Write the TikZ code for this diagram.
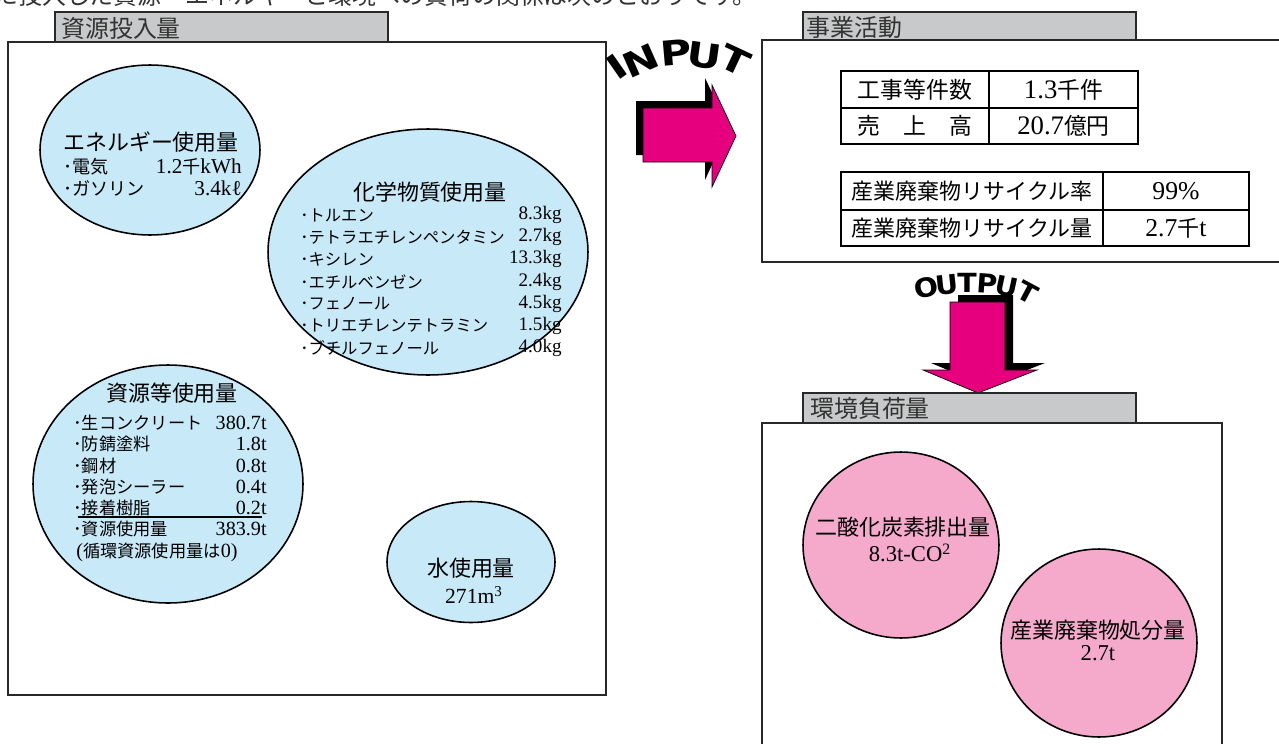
\documentclass[tikz,border=0pt]{standalone}
\usepackage{fontspec}
\setmainfont{Liberation Serif}[Scale=1.17]
\newfontfamily\jpfont{Noto Sans CJK JP}
\newfontfamily\arrowfont{DejaVu Sans}[FakeStretch=1.25]
\newfontfamily\arrowfontB{DejaVu Sans}[FakeStretch=1.08]
\usetikzlibrary{shapes.geometric}
% automatic switch to the Japanese font for CJK characters
\chardef\cjkcls=10
\newcount\cjkcnt
\newcommand\setcjkrange[2]{\cjkcnt=#1\relax
  \loop\XeTeXcharclass\cjkcnt=\cjkcls\relax
  \ifnum\cjkcnt<#2\relax\advance\cjkcnt by 1\relax\repeat}
\setcjkrange{"2E80}{"9FFF}
\setcjkrange{"F900}{"FAFF}
\setcjkrange{"FF00}{"FFEF}
\XeTeXinterchartoks 0 \cjkcls = {\jpfont}
\XeTeXinterchartoks 4095 \cjkcls = {\jpfont}
\XeTeXinterchartoks \cjkcls 0 = {\rmfamily}
\XeTeXinterchartoks \cjkcls 4095 = {\rmfamily}
\XeTeXinterchartokenstate=1
\definecolor{lightblue}{RGB}{200,233,248}
\definecolor{pinkfill}{RGB}{245,170,203}
\definecolor{arrowmag}{RGB}{230,0,126}
\definecolor{tabgray}{RGB}{200,201,202}
\definecolor{linegray}{RGB}{40,40,40}
\definecolor{textgray}{RGB}{50,50,50}
\begin{document}
\begin{tikzpicture}[x=0.02cm,y=-0.02cm,
  panel/.style={draw=linegray, line width=1.1pt},
  tabbox/.style={draw=linegray, line width=1.1pt, fill=tabgray},
  tabtext/.style={anchor=west, inner sep=0, text=textgray, font=\fontsize{13.6}{16}\selectfont},
  blueell/.style={ellipse, draw=black, line width=0.9pt, fill=lightblue, inner sep=0},
  pinkell/.style={ellipse, draw=black, line width=0.9pt, fill=pinkfill, inner sep=0},
  ttl/.style={inner sep=0, font=\fontsize{12.5}{15}\selectfont},
  item/.style={inner sep=0, anchor=west},
  val/.style={inner sep=0, anchor=east},
  cell/.style={draw=black, line width=0.7pt, inner sep=0},
  shadowblk/.style={fill=black},
  pinkarrow/.style={fill=arrowmag, draw=black, line width=0.4pt},
  letterA/.style={inner sep=0, font=\arrowfont\bfseries\fontsize{19.5}{20}\selectfont},
  letterB/.style={inner sep=0, font=\arrowfontB\bfseries\fontsize{15}{15}\selectfont}
]
\useasboundingbox (0,0) rectangle (1279,744);

% cut-off heading line at the very top
\node[anchor=base west, inner sep=0, text=textgray, font=\fontsize{13.6}{16}\selectfont] (head) at (-6,4) {に投入した資源・エネルギーと環境への負荷の関係は次のとおりです。};

% ---------- left panel ----------
\draw[tabbox] (55,12) rectangle (388,42);
\draw[panel] (8,42) rectangle (606,695);
\node[tabtext] (tabin) at (61,28) {資源投入量};

\node[blueell, minimum width=4.4cm, minimum height=3.4cm] (energy) at (150,150) {};
\node[blueell, minimum width=6.4cm, minimum height=4.92cm] (chem) at (428,252) {};
\node[blueell, minimum width=5.4cm, minimum height=4.76cm] (res) at (168,484) {};
\node[blueell, minimum width=3.36cm, minimum height=2.42cm] (water) at (471,562) {};

% energy
\begin{scope}[font=\fontsize{10.3}{12}\selectfont]
\node[ttl] (e-t) at (151,142) {エネルギー使用量};
\node[item] (e-1) at (63,167) {･電気};
\node[val] (e-1v) at (242,167) {1.2千kWh};
\node[item] (e-2) at (63,188) {･ガソリン};
\node[val] (e-2v) at (242,188) {3.4kℓ};
\end{scope}

% chemicals
\begin{scope}[font=\fontsize{9.3}{11}\selectfont]
\node[ttl] (c-t) at (430,192) {化学物質使用量};
\node[item] (c-1) at (300,215) {･トルエン};
\node[val] (c-1v) at (562,215) {8.3kg};
\node[item] (c-2) at (300,237) {･テトラエチレンペンタミン};
\node[val] (c-2v) at (562,237) {2.7kg};
\node[item] (c-3) at (300,259) {･キシレン};
\node[val] (c-3v) at (562,259) {13.3kg};
\node[item] (c-4) at (300,282) {･エチルベンゼン};
\node[val] (c-4v) at (562,282) {2.4kg};
\node[item] (c-5) at (300,304) {･フェノール};
\node[val] (c-5v) at (562,304) {4.5kg};
\node[item] (c-6) at (300,326) {･トリエチレンテトラミン};
\node[val] (c-6v) at (562,326) {1.5kg};
\node[item] (c-7) at (300,348) {･ブチルフェノール};
\node[val] (c-7v) at (562,348) {4.0kg};
\end{scope}

% resources
\begin{scope}[font=\fontsize{9.8}{12}\selectfont]
\node[ttl] (r-t) at (172,393) {資源等使用量};
\node[item] (r-1) at (73,423) {･生コンクリート};
\node[val] (r-1v) at (267,423) {380.7t};
\node[item] (r-2) at (73,444) {･防錆塗料};
\node[val] (r-2v) at (267,444) {1.8t};
\node[item] (r-3) at (73,466) {･鋼材};
\node[val] (r-3v) at (267,466) {0.8t};
\node[item] (r-4) at (73,487) {･発泡シーラー};
\node[val] (r-4v) at (267,487) {0.4t};
\node[item] (r-5) at (73,508) {･接着樹脂};
\node[val] (r-5v) at (267,508) {0.2t};
\node[item] (r-6) at (73,529) {･資源使用量};
\node[val] (r-6v) at (267,529) {383.9t};
\node[item] (r-7) at (76,552) {(循環資源使用量は0)};
\end{scope}
\draw[line width=0.8pt] (78,517) -- (262,517);

% water
\node[ttl] (w-t) at (471,568) {水使用量};
\node[inner sep=0, font=\fontsize{10.5}{13}\selectfont] (w-v) at (474,595) {271m\textsuperscript{3}};

% ---------- INPUT arrow ----------
\fill[shadowblk] (636,101) -- (705,101) -- (705,78) -- (729,128) -- (705,180) -- (705,155) -- (636,155) -- cycle;
\draw[pinkarrow] (643,108) -- (712,108) -- (712,85) -- (736,136) -- (712,187) -- (712,162) -- (643,162) -- cycle;
\node[letterA, rotate=35] (in-1) at (617,67) {I};
\node[letterA, rotate=24] (in-2) at (641,61) {N};
\node[letterA, rotate=5] (in-3) at (676,53) {P};
\node[letterA, rotate=-8] (in-4) at (704,56) {U};
\node[letterA, rotate=-25] (in-5) at (735,60) {T};

% ---------- business activity panel ----------
\draw[tabbox] (803,12) rectangle (1136,40);
\draw[panel] (762,40) rectangle (1290,262);
\node[tabtext] (tabact) at (806,27) {事業活動};

\begin{scope}[font=\fontsize{13}{15}\selectfont]
\node[cell, minimum width=2.96cm, minimum height=0.74cm] (a11) at (915,89.5) {工事等件数};
\node[cell, minimum width=2.98cm, minimum height=0.74cm] (a12) at (1063.5,89.5) {1.3千件};
\node[cell, minimum width=2.96cm, minimum height=0.72cm] (a21) at (915,126) {売　上　高};
\node[cell, minimum width=2.98cm, minimum height=0.72cm] (a22) at (1063.5,126) {20.7億円};
\end{scope}
\begin{scope}[font=\fontsize{12.5}{15}\selectfont]
\node[cell, minimum width=5.24cm, minimum height=0.76cm] (b11) at (972,191) {産業廃棄物リサイクル率};
\node[cell, minimum width=2.92cm, minimum height=0.76cm] (b12) at (1176,191) {99\%};
\node[cell, minimum width=5.24cm, minimum height=0.72cm] (b21) at (972,228) {産業廃棄物リサイクル量};
\node[cell, minimum width=2.92cm, minimum height=0.72cm] (b22) at (1176,228) {2.7千t};
\end{scope}

% ---------- OUTPUT arrow ----------
\fill[shadowblk] (958,295) -- (1013,295) -- (1013,363) -- (1045,363) -- (986,386) -- (931,363) -- (958,363) -- cycle;
\draw[pinkarrow] (950,302) -- (1005,302) -- (1005,370) -- (1037,370) -- (978,393) -- (923,370) -- (950,370) -- cycle;
\node[letterB, rotate=12] (out-1) at (926,288) {O};
\node[letterB, rotate=6] (out-2) at (947,285) {U};
\node[letterB, rotate=0] (out-3) at (967,283) {T};
\node[letterB, rotate=-4] (out-4) at (987,284) {P};
\node[letterB, rotate=-12] (out-5) at (1007,287) {U};
\node[letterB, rotate=-28] (out-6) at (1028,293) {T};

% ---------- environmental load panel ----------
\draw[tabbox] (803,393) rectangle (1136,423);
\draw[panel] (762,423) rectangle (1222,770);
\node[tabtext] (tabenv) at (810,408) {環境負荷量};

\node[pinkell, minimum width=3.92cm, minimum height=3.72cm] (co2) at (901,545) {};
\node[pinkell, minimum width=3.92cm, minimum height=3.76cm] (waste) at (1099,643) {};
\node[ttl] (p1-t) at (903,527) {二酸化炭素排出量};
\node[inner sep=0, font=\fontsize{11}{13}\selectfont] (p1-v) at (910,553) {8.3t-CO\textsuperscript{2}};
\node[ttl] (p2-t) at (1098,630) {産業廃棄物処分量};
\node[inner sep=0, font=\fontsize{11}{13}\selectfont] (p2-v) at (1098,653) {2.7t};
\end{tikzpicture}
\end{document}
